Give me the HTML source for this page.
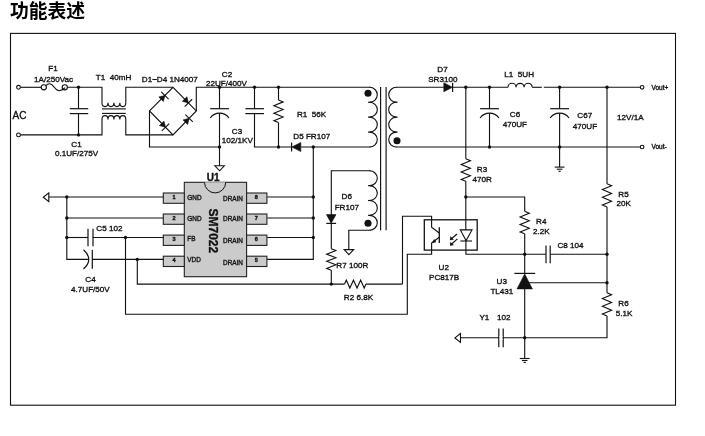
<!DOCTYPE html>
<html><head><meta charset="utf-8"><title>Schematic</title>
<style>
html,body{margin:0;padding:0;background:#fff;}
body{width:705px;height:436px;overflow:hidden;font-family:"Liberation Sans",sans-serif;}
svg{display:block;will-change:transform;opacity:0.999;}
svg text{font-family:"Liberation Sans",sans-serif;fill:#111;stroke:#111;stroke-width:0.34px;}
</style></head><body>
<svg width="705" height="436" viewBox="0 0 705 436">
<text x="10" y="18.4" font-size="18.8" font-weight="bold" text-anchor="start" style="font-family:'Liberation Sans','Noto Sans CJK SC',sans-serif;fill:#000;stroke:none;">功能表述</text>
<g stroke-linecap="butt" stroke-linejoin="miter">
<rect x="10.5" y="33.4" width="665" height="371.8" fill="none" stroke="#111" stroke-width="1.1"/>
<path d="M20.5 87.3 L41 87.3" fill="none" stroke="#111" stroke-width="1.12"/>
<path d="M67.5 87.3 L102 87.3 L102 102.8" fill="none" stroke="#111" stroke-width="1.12"/>
<circle cx="18.5" cy="87.3" r="1.9" fill="#fff" stroke="#111" stroke-width="1.12"/>
<circle cx="18.5" cy="134.9" r="1.9" fill="#fff" stroke="#111" stroke-width="1.12"/>
<path d="M20.5 134.9 L102 134.9 L102 119.3" fill="none" stroke="#111" stroke-width="1.12"/>
<circle cx="43.8" cy="87.3" r="2.6" fill="#fff" stroke="#111" stroke-width="1.12"/>
<circle cx="64.8" cy="87.3" r="2.6" fill="#fff" stroke="#111" stroke-width="1.12"/>
<path d="M46 85.7 C48.5 82.9 51 82.9 54.3 87.3 C57.5 91.9 60.5 91.7 65.2 87.6" fill="none" stroke="#111" stroke-width="1.12"/>
<circle cx="78.5" cy="87.3" r="1.7" fill="#111"/>
<circle cx="78.5" cy="134.9" r="1.7" fill="#111"/>
<path d="M78.5 87.3 L78.5 108.7" fill="none" stroke="#111" stroke-width="1.12"/>
<path d="M78.5 113.6 L78.5 134.9" fill="none" stroke="#111" stroke-width="1.12"/>
<path d="M69.8 108.7 L88.2 108.7" fill="none" stroke="#111" stroke-width="1.2"/>
<path d="M69.8 113.6 L88.2 113.6" fill="none" stroke="#111" stroke-width="1.2"/>
<path d="M102 102.8 A2.975 3.8 0 0 0 107.95 102.8 A2.975 3.8 0 0 0 113.9 102.8 A2.975 3.8 0 0 0 119.85 102.8 A2.975 3.8 0 0 0 125.8 102.8" fill="none" stroke="#111" stroke-width="1.12"/>
<path d="M102 119.4 A2.975 3.8 0 0 1 107.95 119.4 A2.975 3.8 0 0 1 113.9 119.4 A2.975 3.8 0 0 1 119.85 119.4 A2.975 3.8 0 0 1 125.8 119.4" fill="none" stroke="#111" stroke-width="1.12"/>
<path d="M102 108.9 L125.8 108.9" fill="none" stroke="#111" stroke-width="1.12"/>
<path d="M102 113.4 L125.8 113.4" fill="none" stroke="#111" stroke-width="1.12"/>
<path d="M125.8 102.8 L125.8 87.3 L173 87.3" fill="none" stroke="#111" stroke-width="1.12"/>
<path d="M125.8 119.3 L125.8 134.9 L173 134.9" fill="none" stroke="#111" stroke-width="1.12"/>
<path d="M149.5 110.9 L173 87.3 L196.3 110.9 L173 134.9 Z" fill="none" stroke="#111" stroke-width="1.12"/>
<path d="M163.351 101.525 L158.816 97.0089 L164.894 95.4404 Z" fill="#111" stroke="#111" stroke-width="0.6"/>
<path d="M168.579 99.1095 L161.209 91.7712" fill="none" stroke="#111" stroke-width="1.1"/>
<path d="M182.34 101.315 L186.894 96.8184 L188.411 102.909 Z" fill="#111" stroke="#111" stroke-width="0.6"/>
<path d="M184.711 106.563 L192.111 99.256" fill="none" stroke="#111" stroke-width="1.1"/>
<path d="M159.425 125.61 L163.997 121.132 L165.489 127.229 Z" fill="#111" stroke="#111" stroke-width="0.6"/>
<path d="M161.774 130.867 L169.204 123.591" fill="none" stroke="#111" stroke-width="1.1"/>
<path d="M187.628 124.426 L183.036 119.968 L189.094 118.323 Z" fill="#111" stroke="#111" stroke-width="0.6"/>
<path d="M192.825 121.945 L185.363 114.701" fill="none" stroke="#111" stroke-width="1.1"/>
<path d="M149.5 110.9 L149.5 147 L219.5 147" fill="none" stroke="#111" stroke-width="1.12"/>
<path d="M196.3 110.9 L196.3 87.3 L370.5 87.3" fill="none" stroke="#111" stroke-width="1.12"/>
<circle cx="219.5" cy="87.3" r="1.7" fill="#111"/>
<circle cx="219.5" cy="147" r="1.7" fill="#111"/>
<path d="M219.5 87.3 L219.5 108.7" fill="none" stroke="#111" stroke-width="1.12"/>
<path d="M210.2 108.7 L228.9 108.7" fill="none" stroke="#111" stroke-width="1.2"/>
<path d="M210.2 118 A11.6 11.6 0 0 1 229 118" fill="none" stroke="#111" stroke-width="1.2"/>
<path d="M219.5 113.2 L219.5 165.8" fill="none" stroke="#111" stroke-width="1.12"/>
<path d="M214.9 165.8 L224.3 165.8 L219.6 170.8 Z" fill="none" stroke="#111" stroke-width="1.12"/>
<circle cx="254.5" cy="87.3" r="1.7" fill="#111"/>
<path d="M254.5 87.3 L254.5 108.7" fill="none" stroke="#111" stroke-width="1.12"/>
<path d="M254.5 113.6 L254.5 147 L291.5 147" fill="none" stroke="#111" stroke-width="1.12"/>
<path d="M245.4 108.7 L264 108.7" fill="none" stroke="#111" stroke-width="1.2"/>
<path d="M245.4 113.6 L264 113.6" fill="none" stroke="#111" stroke-width="1.2"/>
<circle cx="278.5" cy="87.3" r="1.7" fill="#111"/>
<circle cx="278.5" cy="147" r="1.7" fill="#111"/>
<path d="M278.5 87.3 L278.5 100" fill="none" stroke="#111" stroke-width="1.12"/>
<path d="M278.5 100 L283.1 101.883 L273.9 105.65 L283.1 109.417 L273.9 113.183 L283.1 116.95 L273.9 120.717 L278.5 122.6" fill="none" stroke="#111" stroke-width="1.12"/>
<path d="M278.5 122.6 L278.5 147" fill="none" stroke="#111" stroke-width="1.12"/>
<path d="M300.8 142.5 L300.8 151.5 L291.8 147 Z" fill="#111" stroke="#111" stroke-width="0.6"/>
<path d="M291.6 142.4 L291.6 151.6" fill="none" stroke="#111" stroke-width="1.2"/>
<path d="M300.8 147 L370.5 147" fill="none" stroke="#111" stroke-width="1.12"/>
<circle cx="313.3" cy="147" r="1.7" fill="#111"/>
<path d="M313.3 147 L313.3 259.4 L267 259.4" fill="none" stroke="#111" stroke-width="1.12"/>
<path d="M369.5 87.3 A7.8 7.4625 0 0 1 369.5 102.225 M369.5 102.225 A7.8 7.4625 0 0 1 369.5 117.15 M369.5 117.15 A7.8 7.4625 0 0 1 369.5 132.075 M369.5 132.075 A7.8 7.4625 0 0 1 369.5 147 " fill="none" stroke="#111" stroke-width="1.12"/>
<path d="M368 102.225 L371.8 102.225" fill="none" stroke="#111" stroke-width="1.12"/>
<path d="M368 117.15 L371.8 117.15" fill="none" stroke="#111" stroke-width="1.12"/>
<path d="M368 132.075 L371.8 132.075" fill="none" stroke="#111" stroke-width="1.12"/>
<circle cx="368" cy="93.3" r="3.55" fill="#111"/>
<path d="M380.6 87 L380.6 230.3" fill="none" stroke="#111" stroke-width="1.15"/>
<path d="M386.1 87 L386.1 230.3" fill="none" stroke="#111" stroke-width="1.15"/>
<path d="M396.5 87.3 A7.8 7.4625 0 0 0 396.5 102.225 M396.5 102.225 A7.8 7.4625 0 0 0 396.5 117.15 M396.5 117.15 A7.8 7.4625 0 0 0 396.5 132.075 M396.5 132.075 A7.8 7.4625 0 0 0 396.5 147 " fill="none" stroke="#111" stroke-width="1.12"/>
<path d="M394.3 102.225 L397.6 102.225" fill="none" stroke="#111" stroke-width="1.12"/>
<path d="M394.3 117.15 L397.6 117.15" fill="none" stroke="#111" stroke-width="1.12"/>
<path d="M394.3 132.075 L397.6 132.075" fill="none" stroke="#111" stroke-width="1.12"/>
<circle cx="397" cy="140.7" r="3.55" fill="#111"/>
<path d="M396 87.3 L443.8 87.3" fill="none" stroke="#111" stroke-width="1.12"/>
<path d="M443.8 82.8 L443.8 91.8 L452.4 87.3 Z" fill="#111" stroke="#111" stroke-width="0.6"/>
<path d="M452.6 82.7 L452.6 91.9" fill="none" stroke="#111" stroke-width="1.2"/>
<path d="M452.6 87.3 L508 87.3" fill="none" stroke="#111" stroke-width="1.12"/>
<path d="M508 87.3 A4.03333 4 0 0 1 516.067 87.3 A4.03333 4 0 0 1 524.133 87.3 A4.03333 4 0 0 1 532.2 87.3" fill="none" stroke="#111" stroke-width="1.12"/>
<path d="M532.2 87.3 L541.8 87.3" fill="none" stroke="#111" stroke-width="1.12"/>
<path d="M543.8 87.3 L640.2 87.3" fill="none" stroke="#111" stroke-width="1.12"/>
<circle cx="642.1" cy="87.3" r="1.8" fill="#fff" stroke="#111" stroke-width="1.12"/>
<path d="M396 147 L640.2 147" fill="none" stroke="#111" stroke-width="1.12"/>
<circle cx="642.1" cy="147" r="1.8" fill="#fff" stroke="#111" stroke-width="1.12"/>
<circle cx="465.8" cy="87.3" r="1.7" fill="#111"/>
<circle cx="489.5" cy="87.3" r="1.7" fill="#111"/>
<circle cx="489.5" cy="147" r="1.7" fill="#111"/>
<path d="M489.5 87.3 L489.5 108.7" fill="none" stroke="#111" stroke-width="1.12"/>
<path d="M480.1 108.7 L498.9 108.7" fill="none" stroke="#111" stroke-width="1.2"/>
<path d="M480.1 118 A11.6 11.6 0 0 1 498.9 118" fill="none" stroke="#111" stroke-width="1.2"/>
<path d="M489.5 113.2 L489.5 147" fill="none" stroke="#111" stroke-width="1.12"/>
<circle cx="559.6" cy="87.3" r="1.7" fill="#111"/>
<circle cx="559.6" cy="147" r="1.7" fill="#111"/>
<path d="M559.6 87.3 L559.6 108.7" fill="none" stroke="#111" stroke-width="1.12"/>
<path d="M550.2 108.7 L569 108.7" fill="none" stroke="#111" stroke-width="1.2"/>
<path d="M550.2 118 A11.6 11.6 0 0 1 569 118" fill="none" stroke="#111" stroke-width="1.2"/>
<path d="M559.6 113.2 L559.6 147" fill="none" stroke="#111" stroke-width="1.12"/>
<path d="M559.6 147 L559.6 167.1" fill="none" stroke="#111" stroke-width="1.12"/>
<path d="M554.7 167.1 L564.5 167.1" fill="none" stroke="#111" stroke-width="1.12"/>
<path d="M556.8 169.2 L562.4 169.2" fill="none" stroke="#111" stroke-width="1.12"/>
<path d="M558.5 171.3 L560.7 171.3" fill="none" stroke="#111" stroke-width="1.12"/>
<path d="M465.8 87.3 L465.8 158.8" fill="none" stroke="#111" stroke-width="1.12"/>
<path d="M465.8 158.8 L470.4 160.675 L461.2 164.425 L470.4 168.175 L461.2 171.925 L470.4 175.675 L461.2 179.425 L465.8 181.3" fill="none" stroke="#111" stroke-width="1.12"/>
<path d="M465.8 181.3 L465.8 230" fill="none" stroke="#111" stroke-width="1.12"/>
<circle cx="465.8" cy="197" r="1.7" fill="#111"/>
<path d="M465.8 197 L524.7 197 L524.7 211.3" fill="none" stroke="#111" stroke-width="1.12"/>
<path d="M524.7 211.3 L529.3 213.175 L520.1 216.925 L529.3 220.675 L520.1 224.425 L529.3 228.175 L520.1 231.925 L524.7 233.8" fill="none" stroke="#111" stroke-width="1.12"/>
<path d="M524.7 233.8 L524.7 273.4" fill="none" stroke="#111" stroke-width="1.12"/>
<circle cx="607" cy="87.3" r="1.7" fill="#111"/>
<path d="M607 87.3 L607 183.8" fill="none" stroke="#111" stroke-width="1.12"/>
<path d="M607 183.8 L611.6 185.733 L602.4 189.6 L611.6 193.467 L602.4 197.333 L611.6 201.2 L602.4 205.067 L607 207" fill="none" stroke="#111" stroke-width="1.12"/>
<path d="M607 207 L607 292.8" fill="none" stroke="#111" stroke-width="1.12"/>
<path d="M607 292.8 L611.6 294.733 L602.4 298.6 L611.6 302.467 L602.4 306.333 L611.6 310.2 L602.4 314.067 L607 316" fill="none" stroke="#111" stroke-width="1.12"/>
<path d="M607 316 L607 337.8 L460.5 337.8" fill="none" stroke="#111" stroke-width="1.12"/>
<circle cx="607" cy="254.2" r="1.7" fill="#111"/>
<circle cx="607" cy="282.8" r="1.7" fill="#111"/>
<rect x="424.3" y="219.8" width="52.9" height="30.3" fill="none" stroke="#111" stroke-width="1.3"/>
<path d="M402.5 284.1 L402.5 216.3 L431.6 216.3 L431.6 227.3 L439.3 233" fill="none" stroke="#111" stroke-width="1.12"/>
<path d="M439.3 227.3 L439.3 242.9" fill="none" stroke="#111" stroke-width="1.3"/>
<path d="M439.3 237.3 L431.6 243 L431.6 254.2 L407.3 254.2 L407.3 314.3 L125.5 314.3 L125.5 237.5" fill="none" stroke="#111" stroke-width="1.12"/>
<path d="M432.2 242.7 L435.9 242.1 L434.2 239.5 Z" fill="#111" stroke="#111" stroke-width="0.5"/>
<path d="M460.3 229.9 L472 229.9 L466.1 240.6 Z" fill="none" stroke="#111" stroke-width="1.12"/>
<path d="M460.3 241 L472 241" fill="none" stroke="#111" stroke-width="1.1"/>
<path d="M465.9 240 L465.9 254.2 L546 254.2" fill="none" stroke="#111" stroke-width="1.12"/>
<path d="M457 234 L450.3 239.7" fill="none" stroke="#111" stroke-width="1.15"/>
<path d="M453.4 239.5 L450.3 239.7 L450.5 236.6 Z" fill="#111" stroke="#111" stroke-width="0.5"/>
<path d="M457.4 238.9 L450.3 245.3" fill="none" stroke="#111" stroke-width="1.15"/>
<path d="M453.4 245.1 L450.3 245.3 L450.5 242.2 Z" fill="#111" stroke="#111" stroke-width="0.5"/>
<circle cx="524.7" cy="254.2" r="1.7" fill="#111"/>
<path d="M546 245.6 L546 263.2" fill="none" stroke="#111" stroke-width="1.2"/>
<path d="M550.2 245.6 L550.2 263.2" fill="none" stroke="#111" stroke-width="1.2"/>
<path d="M550.2 254.2 L607 254.2" fill="none" stroke="#111" stroke-width="1.12"/>
<path d="M514.4 273.4 L535.2 273.4" fill="none" stroke="#111" stroke-width="1.2"/>
<path d="M517 288.9 L532.4 288.9 L524.7 273.9 Z" fill="#111" stroke="#111" stroke-width="0.6"/>
<path d="M524.7 288.9 L524.7 358.3" fill="none" stroke="#111" stroke-width="1.12"/>
<path d="M528.5 282.8 L607 282.8" fill="none" stroke="#111" stroke-width="1.12"/>
<circle cx="524.7" cy="337.8" r="1.7" fill="#111"/>
<path d="M519.8 358.5 L529.6 358.5" fill="none" stroke="#111" stroke-width="1.12"/>
<path d="M521.9 360.5 L527.5 360.5" fill="none" stroke="#111" stroke-width="1.12"/>
<path d="M523.6 362.4 L525.8 362.4" fill="none" stroke="#111" stroke-width="1.12"/>
<path d="M498.8 328.4 L498.8 347.3" fill="none" stroke="#111" stroke-width="1.2"/>
<path d="M503.2 328.4 L503.2 347.3" fill="none" stroke="#111" stroke-width="1.2"/>
<rect x="499.5" y="336" width="3" height="4" fill="#fff"/>
<path d="M460.5 333.5 L460.5 342.4 L454.9 337.9 Z" fill="none" stroke="#111" stroke-width="1.12"/>
<path d="M331.3 248.8 L331.3 170.8 L370.5 170.8" fill="none" stroke="#111" stroke-width="1.12"/>
<path d="M369.5 170.8 A7.8 7.425 0 0 1 369.5 185.65 M369.5 185.65 A7.8 7.425 0 0 1 369.5 200.5 M369.5 200.5 A7.8 7.425 0 0 1 369.5 215.35 M369.5 215.35 A7.8 7.425 0 0 1 369.5 230.2 " fill="none" stroke="#111" stroke-width="1.12"/>
<path d="M368 185.65 L371.8 185.65" fill="none" stroke="#111" stroke-width="1.12"/>
<path d="M368 200.5 L371.8 200.5" fill="none" stroke="#111" stroke-width="1.12"/>
<path d="M368 215.35 L371.8 215.35" fill="none" stroke="#111" stroke-width="1.12"/>
<circle cx="368" cy="223.3" r="3.55" fill="#111"/>
<path d="M370.5 230.2 L348.8 230.2 L348.8 249.6" fill="none" stroke="#111" stroke-width="1.12"/>
<path d="M344.2 249.6 L353.6 249.6 L348.9 254.6 Z" fill="none" stroke="#111" stroke-width="1.12"/>
<path d="M326.4 214.6 L336 214.6 L331.2 223.2 Z" fill="#111" stroke="#111" stroke-width="0.6"/>
<path d="M326.3 223.4 L336.1 223.4" fill="none" stroke="#111" stroke-width="1.2"/>
<path d="M331.3 248.8 L335.9 250.583 L326.7 254.15 L335.9 257.717 L326.7 261.283 L335.9 264.85 L326.7 268.417 L331.3 270.2" fill="none" stroke="#111" stroke-width="1.12"/>
<path d="M331.3 270.2 L331.3 284.1" fill="none" stroke="#111" stroke-width="1.12"/>
<circle cx="331.3" cy="284.1" r="1.7" fill="#111"/>
<path d="M137.3 259.4 L137.3 284.1 L344.5 284.1" fill="none" stroke="#111" stroke-width="1.12"/>
<path d="M344.5 284.1 L346.292 280.1 L349.875 288.1 L353.458 280.1 L357.042 288.1 L360.625 280.1 L364.208 288.1 L366 284.1" fill="none" stroke="#111" stroke-width="1.12"/>
<path d="M366 284.1 L402.5 284.1" fill="none" stroke="#111" stroke-width="1.12"/>
<rect x="184.3" y="182.3" width="62.3" height="94.4" fill="#cbcbcb" stroke="#222" stroke-width="1.1"/>
<path d="M204.5 182.3 A10.6 10.6 0 0 0 225.7 182.3" fill="#cbcbcb" stroke="#111" stroke-width="1"/>
<rect x="163.3" y="193" width="21" height="10.3" fill="#cbcbcb" stroke="#222" stroke-width="1.1"/>
<rect x="246.6" y="193" width="20.3" height="10.3" fill="#cbcbcb" stroke="#222" stroke-width="1.1"/>
<text x="174.1" y="198.819" font-size="5.5" font-weight="bold" text-anchor="middle" >1</text>
<text x="256.2" y="198.519" font-size="5.5" font-weight="bold" text-anchor="middle" >8</text>
<rect x="163.3" y="214" width="21" height="10.3" fill="#cbcbcb" stroke="#222" stroke-width="1.1"/>
<rect x="246.6" y="214" width="20.3" height="10.3" fill="#cbcbcb" stroke="#222" stroke-width="1.1"/>
<text x="174.1" y="219.819" font-size="5.5" font-weight="bold" text-anchor="middle" >2</text>
<text x="256.2" y="219.519" font-size="5.5" font-weight="bold" text-anchor="middle" >7</text>
<rect x="163.3" y="235.1" width="21" height="10.3" fill="#cbcbcb" stroke="#222" stroke-width="1.1"/>
<rect x="246.6" y="235.1" width="20.3" height="10.3" fill="#cbcbcb" stroke="#222" stroke-width="1.1"/>
<text x="174.1" y="240.919" font-size="5.5" font-weight="bold" text-anchor="middle" >3</text>
<text x="256.2" y="240.619" font-size="5.5" font-weight="bold" text-anchor="middle" >6</text>
<rect x="163.3" y="256.2" width="21" height="10.3" fill="#cbcbcb" stroke="#222" stroke-width="1.1"/>
<rect x="246.6" y="256.2" width="20.3" height="10.3" fill="#cbcbcb" stroke="#222" stroke-width="1.1"/>
<text x="174.1" y="262.019" font-size="5.5" font-weight="bold" text-anchor="middle" >4</text>
<text x="256.2" y="261.719" font-size="5.5" font-weight="bold" text-anchor="middle" >5</text>
<path d="M48.8 197 L163.6 197" fill="none" stroke="#111" stroke-width="1.12"/>
<path d="M66.8 218 L163.6 218" fill="none" stroke="#111" stroke-width="1.12"/>
<path d="M66.8 237.5 L88 237.5" fill="none" stroke="#111" stroke-width="1.12"/>
<path d="M93 237.5 L163.6 237.5" fill="none" stroke="#111" stroke-width="1.12"/>
<path d="M66.8 197 L66.8 259.4 L88.4 259.4" fill="none" stroke="#111" stroke-width="1.12"/>
<path d="M92.3 259.4 L163.6 259.4" fill="none" stroke="#111" stroke-width="1.12"/>
<circle cx="66.8" cy="197" r="1.7" fill="#111"/>
<circle cx="66.8" cy="218" r="1.7" fill="#111"/>
<circle cx="66.8" cy="237.5" r="1.7" fill="#111"/>
<circle cx="125.5" cy="237.5" r="1.7" fill="#111"/>
<circle cx="137.3" cy="259.4" r="1.7" fill="#111"/>
<path d="M88 228.8 L88 246.3" fill="none" stroke="#111" stroke-width="1.2"/>
<path d="M93 228.8 L93 246.3" fill="none" stroke="#111" stroke-width="1.2"/>
<path d="M92.3 250 L92.3 268.8" fill="none" stroke="#111" stroke-width="1.2"/>
<path d="M83.5 249.8 Q94 259.4 83.5 269" fill="none" stroke="#111" stroke-width="1.2"/>
<path d="M48.8 192.9 L48.8 201.6 L43.3 197.2 Z" fill="none" stroke="#111" stroke-width="1.12"/>
<path d="M267.2 197 L313.3 197" fill="none" stroke="#111" stroke-width="1.12"/>
<circle cx="313.3" cy="197" r="1.7" fill="#111"/>
<path d="M267.2 218 L313.3 218" fill="none" stroke="#111" stroke-width="1.12"/>
<circle cx="313.3" cy="218" r="1.7" fill="#111"/>
<path d="M267.2 237.5 L313.3 237.5" fill="none" stroke="#111" stroke-width="1.12"/>
<circle cx="313.3" cy="237.5" r="1.7" fill="#111"/>
<text x="53" y="71.3498" font-size="8.1" font-weight="normal" text-anchor="middle" >F1</text>
<text x="53.5" y="82.0498" font-size="8.1" font-weight="normal" text-anchor="middle" >1A/250Vac</text>
<text x="12.5" y="119.03" font-size="10" font-weight="normal" text-anchor="start" >AC</text>
<text x="95.8" y="79.5498" font-size="8.1" font-weight="normal" text-anchor="start" >T1&#160;&#160;40mH</text>
<text x="76.5" y="146.85" font-size="8.1" font-weight="normal" text-anchor="middle" >C1</text>
<text x="76.5" y="155.95" font-size="8.1" font-weight="normal" text-anchor="middle" >0.1UF/275V</text>
<text x="141.8" y="82.0498" font-size="8.1" font-weight="normal" text-anchor="start" >D1~D4&#160;1N4007</text>
<text x="227" y="76.8498" font-size="8.1" font-weight="normal" text-anchor="middle" >C2</text>
<text x="226.4" y="86.3498" font-size="8.1" font-weight="normal" text-anchor="middle" >22UF/400V</text>
<text x="237" y="133.85" font-size="8.1" font-weight="normal" text-anchor="middle" >C3</text>
<text x="237.3" y="143.35" font-size="8.1" font-weight="normal" text-anchor="middle" >102/1KV</text>
<text x="297" y="116.85" font-size="8.1" font-weight="normal" text-anchor="start" >R1&#160;&#160;56K</text>
<text x="293.3" y="138.85" font-size="8.1" font-weight="normal" text-anchor="start" >D5&#160;FR107</text>
<text x="442.5" y="71.8498" font-size="8.1" font-weight="normal" text-anchor="middle" >D7</text>
<text x="442.8" y="81.8498" font-size="8.1" font-weight="normal" text-anchor="middle" >SR3100</text>
<text x="504.3" y="76.8498" font-size="8.1" font-weight="normal" text-anchor="start" >L1&#160;&#160;5UH</text>
<text x="515" y="116.85" font-size="8.1" font-weight="normal" text-anchor="middle" >C6</text>
<text x="514.8" y="126.85" font-size="8.1" font-weight="normal" text-anchor="middle" >470UF</text>
<text x="584.8" y="117.75" font-size="8.1" font-weight="normal" text-anchor="middle" >C67</text>
<text x="585" y="128.75" font-size="8.1" font-weight="normal" text-anchor="middle" >470UF</text>
<text x="617" y="119.55" font-size="8.1" font-weight="normal" text-anchor="start" >12V/1A</text>
<text x="651.5" y="89.877" font-size="6.5" font-weight="normal" text-anchor="start" >Vout+</text>
<text x="651.5" y="149.377" font-size="6.5" font-weight="normal" text-anchor="start" >Vout-</text>
<text x="482" y="171.85" font-size="8.1" font-weight="normal" text-anchor="middle" >R3</text>
<text x="482.3" y="181.85" font-size="8.1" font-weight="normal" text-anchor="middle" >470R</text>
<text x="623.5" y="196.85" font-size="8.1" font-weight="normal" text-anchor="middle" >R5</text>
<text x="623.6" y="206.35" font-size="8.1" font-weight="normal" text-anchor="middle" >20K</text>
<text x="541.3" y="223.85" font-size="8.1" font-weight="normal" text-anchor="middle" >R4</text>
<text x="541.3" y="233.85" font-size="8.1" font-weight="normal" text-anchor="middle" >2.2K</text>
<text x="557.5" y="247.85" font-size="8.1" font-weight="normal" text-anchor="start" >C8&#160;104</text>
<text x="443.8" y="270.05" font-size="8.1" font-weight="normal" text-anchor="middle" >U2</text>
<text x="444.1" y="279.55" font-size="8.1" font-weight="normal" text-anchor="middle" >PC817B</text>
<text x="501.8" y="283.85" font-size="8.1" font-weight="normal" text-anchor="middle" >U3</text>
<text x="501.9" y="294.35" font-size="8.1" font-weight="normal" text-anchor="middle" >TL431</text>
<text x="479.4" y="320.05" font-size="8.1" font-weight="normal" text-anchor="start" >Y1</text>
<text x="496.9" y="320.05" font-size="8.1" font-weight="normal" text-anchor="start" >102</text>
<text x="623.5" y="305.85" font-size="8.1" font-weight="normal" text-anchor="middle" >R6</text>
<text x="624" y="315.75" font-size="8.1" font-weight="normal" text-anchor="middle" >5.1K</text>
<text x="346.8" y="199.35" font-size="8.1" font-weight="normal" text-anchor="middle" >D6</text>
<text x="346.8" y="209.55" font-size="8.1" font-weight="normal" text-anchor="middle" >FR107</text>
<text x="336.3" y="267.55" font-size="8.1" font-weight="normal" text-anchor="start" >R7&#160;100R</text>
<text x="343.8" y="299.55" font-size="8.1" font-weight="normal" text-anchor="start" >R2&#160;6.8K</text>
<text x="96.3" y="230.85" font-size="8.1" font-weight="normal" text-anchor="start" >C5&#160;102</text>
<text x="90.5" y="281.75" font-size="8.1" font-weight="normal" text-anchor="middle" >C4</text>
<text x="90.4" y="291.85" font-size="8.1" font-weight="normal" text-anchor="middle" >4.7UF/50V</text>
<text x="206.8" y="181.33" font-size="10" font-weight="bold" text-anchor="start" >U1</text>
<text x="187.3" y="199.541" font-size="6.4" font-weight="normal" text-anchor="start" >GND</text>
<text x="223.1" y="201.441" font-size="6.4" font-weight="normal" text-anchor="start" >DRAIN</text>
<text x="187.3" y="221.441" font-size="6.4" font-weight="normal" text-anchor="start" >GND</text>
<text x="223.1" y="220.641" font-size="6.4" font-weight="normal" text-anchor="start" >DRAIN</text>
<text x="187.3" y="241.441" font-size="6.4" font-weight="normal" text-anchor="start" >FB</text>
<text x="223.1" y="242.541" font-size="6.4" font-weight="normal" text-anchor="start" >DRAIN</text>
<text x="187.3" y="262.441" font-size="6.4" font-weight="normal" text-anchor="start" >VDD</text>
<text x="223.1" y="264.541" font-size="6.4" font-weight="normal" text-anchor="start" >DRAIN</text>
<text transform="translate(208.6,208.5) rotate(90)" font-size="12" font-weight="bold">SM7022</text>
</g>
</svg>
</body></html>
